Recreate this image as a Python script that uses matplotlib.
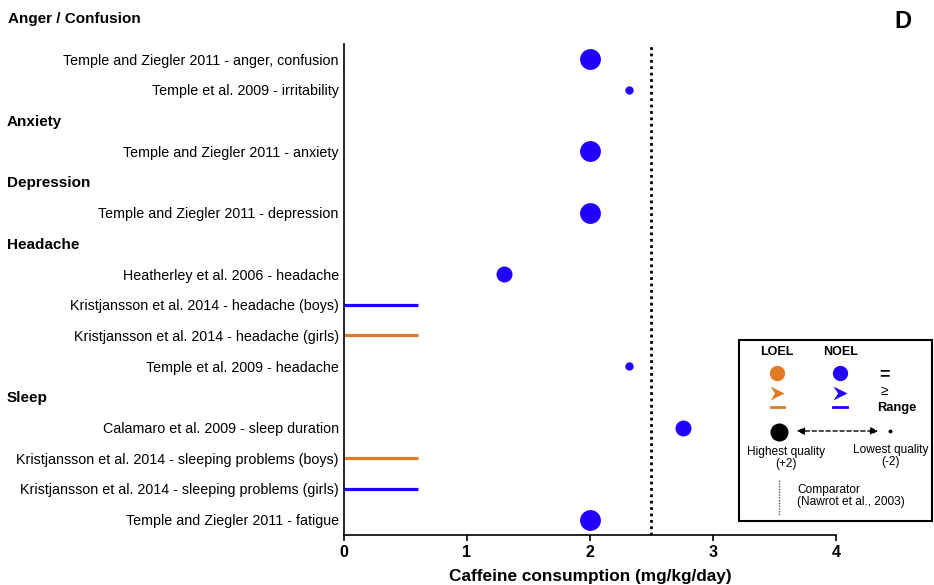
import matplotlib
matplotlib.use("Agg")
import matplotlib.pyplot as plt
from matplotlib.patches import FancyArrowPatch
from matplotlib.path import Path

plt.rcParams["font.family"] = ["Liberation Sans", "DejaVu Sans"]

BLUE = "#2200ff"
ORANGE = "#e07b22"

# row layout, top to bottom
labels = [
    "Temple and Ziegler 2011 - anger, confusion",
    "Temple et al. 2009 - irritability",
    "Anxiety",
    "Temple and Ziegler 2011 - anxiety",
    "Depression",
    "Temple and Ziegler 2011 - depression",
    "Headache",
    "Heatherley et al. 2006 - headache",
    "Kristjansson et al. 2014 - headache (boys)",
    "Kristjansson et al. 2014 - headache (girls)",
    "Temple et al. 2009 - headache",
    "Sleep",
    "Calamaro et al. 2009 - sleep duration",
    "Kristjansson et al. 2014 - sleeping problems (boys)",
    "Kristjansson et al. 2014 - sleeping problems (girls)",
    "Temple and Ziegler 2011 - fatigue",
]
is_header = [False, False, True, False, True, False, True, False,
             False, False, False, True, False, False, False, False]

# point estimates (NOEL dots)
dot_rows = [0, 1, 3, 5, 7, 10, 12, 15]
dot_dose = [2.0, 2.32, 2.0, 2.0, 1.3, 2.32, 2.76, 2.0]
dot_quality = [2, -1, 2, 2, 1, -1, 1, 2]
dot_type = ["NOEL"] * 8

# dose ranges
range_rows = [8, 9, 13, 14]
range_lo = [0.0, 0.0, 0.0, 0.0]
range_hi = [0.6, 0.6, 0.6, 0.6]
range_type = ["NOEL", "LOEL", "LOEL", "NOEL"]

comparator = 2.5
quality_size = {2: 15, 1: 11.5, 0: 9, -1: 6, -2: 3}
type_color = {"NOEL": BLUE, "LOEL": ORANGE}

# notched arrowhead used for ">=" doses
arrow_marker = Path([(-1, 1), (1, 0), (-1, -1), (-0.35, 0), (-1, 1)],
                    [Path.MOVETO, Path.LINETO, Path.LINETO, Path.LINETO, Path.CLOSEPOLY])

fig = plt.figure(figsize=(9.34, 5.85), dpi=100)
ax = fig.add_axes([0.368, 0.0855, 0.527, 0.8395])

for r, lo, hi, t in zip(range_rows, range_lo, range_hi, range_type):
    ax.plot([lo, hi], [r, r], color=type_color[t], lw=2.3, solid_capstyle="butt")

for r, x, q, t in zip(dot_rows, dot_dose, dot_quality, dot_type):
    ax.plot(x, r, "o", ms=quality_size[q], color=type_color[t], mec="none")

ax.axvline(comparator, color="black", lw=2, ls=(0, (1, 1.3)))

ax.set_xlim(0, 4)
ax.set_ylim(15.5, -0.5)
ax.set_xticks([0, 1, 2, 3, 4])
ax.tick_params(axis="x", labelsize=11.5, width=1.2, length=4, pad=3)
for lbl in ax.get_xticklabels():
    lbl.set_fontweight("bold")
ax.set_yticks([])
ax.set_xlabel("Caffeine consumption (mg/kg/day)", fontsize=12.4, fontweight="bold", labelpad=7)
for s in ["top", "right"]:
    ax.spines[s].set_visible(False)
ax.spines["left"].set_linewidth(1.2)
ax.spines["bottom"].set_linewidth(1.2)

# row labels and outcome headers
for i, (txt, hdr) in enumerate(zip(labels, is_header)):
    if hdr:
        ax.text(-2.74, i, txt, ha="left", va="center_baseline", fontsize=11,
                fontweight="bold", clip_on=False)
    else:
        ax.text(-0.04, i, txt, ha="right", va="center_baseline", fontsize=10.3, clip_on=False)

fig.text(8 / 934, 1 - 18 / 585, "Anger / Confusion", ha="left", va="center_baseline",
         fontsize=11, fontweight="bold")
fig.text(903 / 934, 1 - 22 / 585, "D", ha="center", va="center",
         fontsize=17, fontweight="bold")


# key box, laid out in pixel coordinates
def fx(px):
    return px / 934


def fy(py):
    return 1 - py / 585


box = plt.Rectangle((fx(739), fy(521)), fx(932) - fx(739), fy(340) - fy(521),
                    transform=fig.transFigure, fill=False, lw=1.5, ec="black")
fig.patches.append(box)

fig.text(fx(777), fy(352), "LOEL", ha="center", va="center", fontsize=9, fontweight="bold")
fig.text(fx(841), fy(352), "NOEL", ha="center", va="center", fontsize=9, fontweight="bold")
kx = fig.add_axes([0, 0, 1, 1], facecolor="none")
kx.set_xlim(0, 934)
kx.set_ylim(585, 0)
kx.axis("off")
kx.plot(777, 373, "o", ms=11, color=ORANGE, mec="none")
kx.plot(840, 373, "o", ms=11, color=BLUE, mec="none")
kx.plot(777, 393, marker=arrow_marker, ms=10, color=ORANGE, mec="none")
kx.plot(840, 393, marker=arrow_marker, ms=10, color=BLUE, mec="none")
kx.plot([771, 784], [407, 407], color=ORANGE, lw=2)
kx.plot([833, 847], [407, 407], color=BLUE, lw=2)
fig.text(fx(885), fy(375), "=", ha="center", va="center", fontsize=13, fontweight="bold")
fig.text(fx(884), fy(391), "≥", ha="center", va="center", fontsize=10)
fig.text(fx(897), fy(408), "Range", ha="center", va="center", fontsize=9.3, fontweight="bold")

kx.plot(779, 432, "o", ms=13, color="black", mec="none")
kx.plot(890, 431, "o", ms=2.8, color="black", mec="none")
kx.add_patch(FancyArrowPatch((794, 431), (881, 431), arrowstyle="<|-|>",
                             mutation_scale=11, lw=1, ls=(0, (3, 2)), color="black"))
fig.text(fx(786), fy(458), "Highest quality\n(+2)", ha="center", va="center",
         fontsize=8.6, linespacing=1.0)
fig.text(fx(891), fy(456), "Lowest quality\n(-2)", ha="center", va="center",
         fontsize=8.6, linespacing=1.0)
kx.plot([779, 779], [480, 516], color="#555555", lw=1, ls=(0, (1, 1)))
fig.text(fx(797), fy(496), "Comparator\n(Nawrot et al., 2003)", ha="left", va="center",
         fontsize=8.6, linespacing=1.0)

fig.savefig("out.png", dpi=100)
